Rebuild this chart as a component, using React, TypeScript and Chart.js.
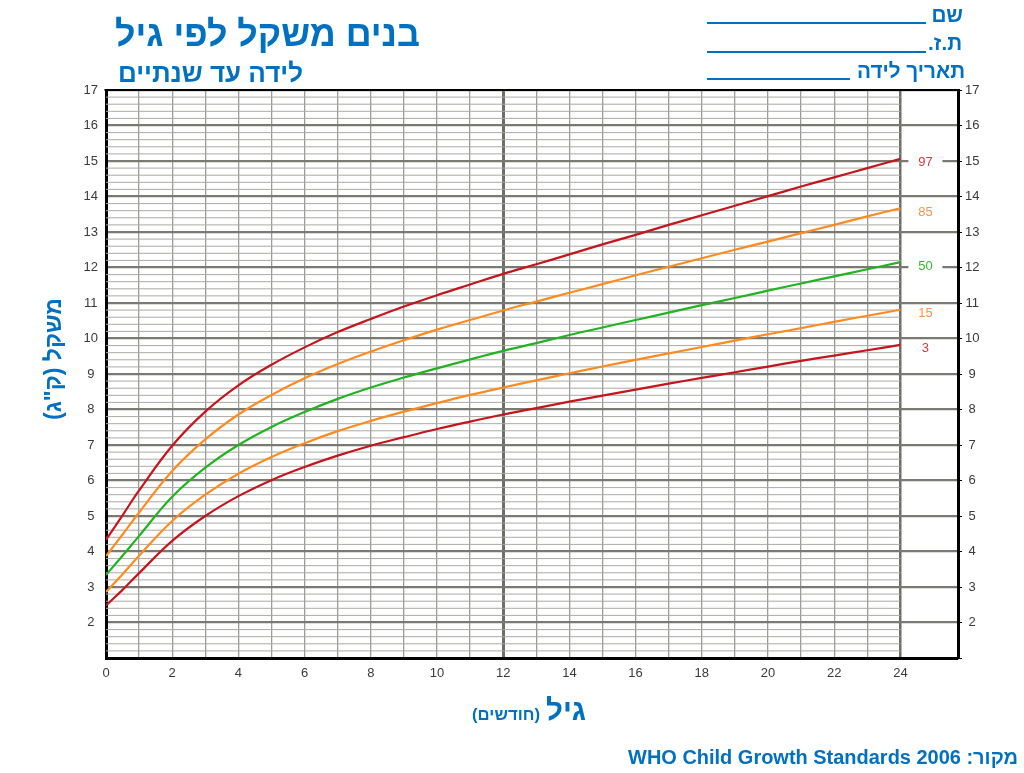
import React, { useEffect, useRef } from "react";
import { Chart, registerables } from "chart.js";

Chart.register(...registerables);

// ---------- data ----------
const ages = [0, 0.5, 1, 2, 3, 4, 5, 6, 7, 8, 9, 10, 11, 12, 13, 14, 15, 16, 17, 18, 19, 20, 21, 22, 23, 24];
const p3 = [2.48, 2.92, 3.39, 4.30, 5.00, 5.56, 6.01, 6.38, 6.70, 6.98, 7.22, 7.45, 7.66, 7.86, 8.04, 8.22, 8.39, 8.56, 8.73, 8.89, 9.05, 9.21, 9.37, 9.52, 9.67, 9.82];
const p15 = [2.86, 3.36, 3.88, 4.86, 5.60, 6.19, 6.66, 7.05, 7.39, 7.68, 7.94, 8.18, 8.41, 8.62, 8.82, 9.02, 9.21, 9.40, 9.58, 9.76, 9.94, 10.12, 10.29, 10.47, 10.64, 10.81];
const p50 = [3.34, 3.88, 4.44, 5.54, 6.36, 7.00, 7.51, 7.93, 8.30, 8.62, 8.90, 9.16, 9.41, 9.65, 9.87, 10.10, 10.31, 10.52, 10.73, 10.94, 11.14, 11.35, 11.55, 11.75, 11.95, 12.15];
const p85 = [3.87, 4.48, 5.10, 6.27, 7.16, 7.86, 8.41, 8.88, 9.28, 9.63, 9.95, 10.25, 10.52, 10.79, 11.04, 11.29, 11.53, 11.78, 12.02, 12.26, 12.50, 12.73, 12.97, 13.20, 13.44, 13.67];
const p97 = [4.33, 5.02, 5.72, 6.98, 7.94, 8.68, 9.26, 9.75, 10.18, 10.55, 10.90, 11.22, 11.52, 11.82, 12.09, 12.37, 12.65, 12.92, 13.20, 13.47, 13.74, 14.01, 14.28, 14.54, 14.80, 15.06];
const percentileNames = ["97", "85", "50", "15", "3"];
const gridMonths = [0, 1, 2, 3, 4, 5, 6, 7, 8, 9, 10, 11, 12, 13, 14, 15, 16, 17, 18, 19, 20, 21, 22, 23, 24];
const xTickValues = [0, 2, 4, 6, 8, 10, 12, 14, 16, 18, 20, 22, 24];
const yTickValues = [2, 3, 4, 5, 6, 7, 8, 9, 10, 11, 12, 13, 14, 15, 16, 17];

const titleText = "בנים משקל לפי גיל";
const subtitleText = "לידה עד שנתיים";
const formLabels = ["שם", "ת.ז.", "תאריך לידה"];
const xTitleMain = "גיל";
const xTitleUnit = "(חודשים)";
const yTitleText = 'משקל (ק"ג)';
const sourceText = "מקור: WHO Child Growth Standards 2006";

// ---------- styles ----------
const FONT = '"Liberation Sans", Arial, sans-serif';
const BLUE = "#0070c0";
const RED = "#c4161c";
const ORANGE = "#ff8b1f";
const GREEN = "#22b322";
const lineColors = [RED, ORANGE, GREEN, ORANGE, RED];
const labelColors = ["#d23c3c", "#f7944a", "#33b833", "#f7944a", "#d23c3c"];
const MAJOR = "#7a7a72";
const MINOR = "#a9a9a5";
const VGRID = "#9c9c98";
const TICK_COLOR = "#3a3a3a";

function fitFont(ctx: CanvasRenderingContext2D, text: string, weight: string, target: number) {
  ctx.font = `${weight} 20px ${FONT}`;
  const w = ctx.measureText(text).width;
  const size = (20 * target) / w;
  ctx.font = `${weight} ${size}px ${FONT}`;
  return size;
}

const decorPlugin = {
  id: "decor",
  beforeDatasetsDraw(chart: any) {
    const { ctx, chartArea, scales } = chart;
    const x = scales.x;
    const y = scales.y;
    const x24 = x.getPixelForValue(24);
    ctx.save();
    ctx.strokeStyle = MINOR;
    ctx.lineWidth = 1;
    for (let k = 1; k < 80; k++) {
      if (k % 5 === 0) continue;
      const v = 1 + k * 0.2;
      const py = y.getPixelForValue(v);
      ctx.beginPath();
      ctx.moveTo(chartArea.left, py);
      ctx.lineTo(x24, py);
      ctx.stroke();
    }
    ctx.restore();
  },
  afterDatasetsDraw(chart: any) {
    const { ctx, chartArea, scales } = chart;
    const x = scales.x;
    const y = scales.y;
    const series = [p97, p85, p50, p15, p3];
    const lx = x.getPixelForValue(24) + 25;
    ctx.save();
    ctx.font = `13px ${FONT}`;
    ctx.textAlign = "center";
    ctx.textBaseline = "middle";
    series.forEach((s, i) => {
      const py = y.getPixelForValue(s[s.length - 1]) + 4;
      ctx.fillStyle = "#ffffff";
      ctx.fillRect(lx - 17, py - 7, 34, 14);
      ctx.fillStyle = labelColors[i];
      ctx.fillText(percentileNames[i], lx, py);
    });
    // top border
    ctx.strokeStyle = "#000";
    ctx.lineWidth = 2;
    ctx.beginPath();
    ctx.moveTo(chartArea.left - 1.5, chartArea.top);
    ctx.lineTo(chartArea.right + 1.5, chartArea.top);
    ctx.stroke();
    ctx.restore();
  },
  afterDraw(chart: any) {
    const { ctx } = chart;
    ctx.save();
    ctx.direction = "rtl";
    ctx.fillStyle = BLUE;
    ctx.textBaseline = "alphabetic";
    ctx.textAlign = "right";

    // titles
    fitFont(ctx, titleText, "bold", 305);
    ctx.fillText(titleText, 420, 46);
    fitFont(ctx, subtitleText, "bold", 185);
    ctx.fillText(subtitleText, 303, 82);

    // form
    const fs = fitFont(ctx, formLabels[2], "bold", 108);
    ctx.font = `bold ${fs}px ${FONT}`;
    ctx.fillText(formLabels[0], 963, 22);
    ctx.fillText(formLabels[1], 962, 50);
    ctx.fillText(formLabels[2], 965, 78);
    ctx.strokeStyle = BLUE;
    ctx.lineWidth = 2;
    const blanks = [
      [707, 926, 23],
      [707, 926, 52],
      [707, 850, 79],
    ];
    blanks.forEach(([a, b, yy]) => {
      ctx.beginPath();
      ctx.moveTo(a, yy);
      ctx.lineTo(b, yy);
      ctx.stroke();
    });

    // x title
    fitFont(ctx, xTitleMain, "bold", 40);
    ctx.fillText(xTitleMain, 586, 720);
    fitFont(ctx, xTitleUnit, "bold", 68);
    ctx.fillText(xTitleUnit, 540, 720);

    // source
    fitFont(ctx, sourceText, "bold", 390);
    ctx.fillText(sourceText, 1018, 764);

    // y title
    ctx.translate(55, 359);
    ctx.rotate(-Math.PI / 2);
    ctx.textAlign = "center";
    ctx.textBaseline = "middle";
    fitFont(ctx, yTitleText, "bold", 122);
    ctx.fillText(yTitleText, 0, 0);
    ctx.restore();
  },
};

export default function App() {
  const ref = useRef<HTMLCanvasElement>(null);

  useEffect(() => {
    if (!ref.current) return;
    const series = [p97, p85, p50, p15, p3];
    const chart = new Chart(ref.current, {
      type: "line",
      data: {
        datasets: series.map((s, i) => ({
          label: percentileNames[i],
          data: ages.map((m, j) => ({ x: m, y: s[j] })),
          borderColor: lineColors[i],
          borderWidth: 2.2,
          pointRadius: 0,
          tension: 0.4,
          fill: false,
        })),
      },
      options: {
        animation: false,
        responsive: false,
        devicePixelRatio: 1,
        layout: { padding: { top: 90, left: 0, right: 0, bottom: 0 } },
        plugins: {
          legend: { display: false },
          tooltip: { enabled: false },
          title: { display: false },
        },
        scales: {
          x: {
            type: "linear",
            min: 0,
            max: 25.74,
            afterBuildTicks: (s: any) => {
              s.ticks = gridMonths.map((v) => ({ value: v }));
            },
            afterFit: (s: any) => {
              s.height = 115;
            },
            ticks: {
              autoSkip: false,
              maxRotation: 0,
              padding: 8,
              color: TICK_COLOR,
              font: { family: FONT, size: 13 },
              callback: (v: any) => (xTickValues.includes(Number(v)) ? String(v) : ""),
            },
            grid: {
              drawTicks: false,
              color: (c: any) => (c.tick && c.tick.value === 0 ? "rgba(0,0,0,0)" : c.tick && c.tick.value % 12 === 0 ? "#6e6e68" : VGRID),
              lineWidth: (c: any) => (c.tick && c.tick.value === 12 ? 3 : c.tick && c.tick.value === 24 ? 2.5 : 1.3),
            },
            border: { color: "#000", width: 3 },
          },
          y: {
            type: "linear",
            position: "left",
            min: 1,
            max: 17,
            afterBuildTicks: (s: any) => {
              s.ticks = [1, ...yTickValues].map((v) => ({ value: v }));
            },
            afterFit: (s: any) => {
              s.width = 106;
            },
            ticks: {
              autoSkip: false,
              crossAlign: "center",
              padding: 8,
              color: TICK_COLOR,
              font: { family: FONT, size: 13 },
              callback: (v: any) => (yTickValues.includes(Number(v)) ? String(v) : ""),
            },
            grid: {
              drawTicks: false,
              color: MAJOR,
              lineWidth: 2.3,
            },
            border: { color: "#000", width: 3 },
          },
          y2: {
            type: "linear",
            position: "right",
            min: 1,
            max: 17,
            afterBuildTicks: (s: any) => {
              s.ticks = [1, ...yTickValues].map((v) => ({ value: v }));
            },
            afterFit: (s: any) => {
              s.width = 66;
            },
            ticks: {
              autoSkip: false,
              crossAlign: "center",
              padding: 3,
              color: TICK_COLOR,
              font: { family: FONT, size: 13 },
              callback: (v: any) => (yTickValues.includes(Number(v)) ? String(v) : ""),
            },
            grid: {
              drawOnChartArea: false,
              drawTicks: true,
              tickLength: 4,
              color: "#000",
              lineWidth: 1,
            },
            border: { color: "#000", width: 3 },
          },
        },
      },
      plugins: [decorPlugin],
    } as any);
    return () => chart.destroy();
  }, []);

  return (
    <div style={{ position: "fixed", left: 0, top: 0, width: 1024, height: 773, background: "#fff" }}>
      <canvas ref={ref} width={1024} height={773} style={{ display: "block", width: 1024, height: 773 }} />
    </div>
  );
}
